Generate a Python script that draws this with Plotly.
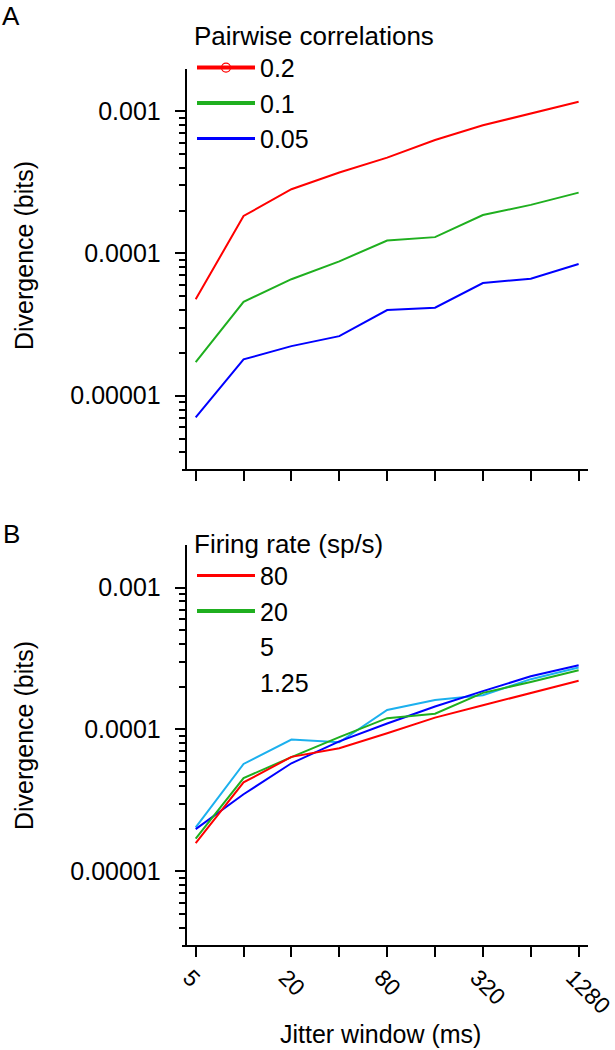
import plotly.graph_objects as go

# ---------------- data ----------------
jitter_ms = [5, 10, 20, 40, 80, 160, 320, 640, 1280]
x_tick_text_b = ["5", "", "20", "", "80", "", "320", "", "1280"]
x_tick_text_a = ["", "", "", "", "", "", "", "", ""]

corr_labels = ["0.2", "0.1", "0.05"]
corr_02 = [4.75e-5, 1.83e-4, 2.82e-4, 3.70e-4, 4.70e-4, 6.25e-4, 7.94e-4, 9.64e-4, 1.16e-3]
corr_01 = [1.72e-5, 4.57e-5, 6.58e-5, 8.79e-5, 1.23e-4, 1.30e-4, 1.86e-4, 2.19e-4, 2.67e-4]
corr_005 = [7.05e-6, 1.80e-5, 2.23e-5, 2.62e-5, 4.00e-5, 4.15e-5, 6.19e-5, 6.64e-5, 8.41e-5]

rate_labels = ["80", "20", "5", "1.25"]
rate_80 = [1.58e-5, 4.23e-5, 6.40e-5, 7.36e-5, 9.40e-5, 1.21e-4, 1.48e-4, 1.80e-4, 2.20e-4]
rate_20 = [1.70e-5, 4.54e-5, 6.37e-5, 8.81e-5, 1.20e-4, 1.29e-4, 1.81e-4, 2.16e-4, 2.61e-4]
rate_5 = [1.98e-5, 3.49e-5, 5.77e-5, 8.24e-5, 1.10e-4, 1.45e-4, 1.86e-4, 2.37e-4, 2.83e-4]
rate_125 = [2.04e-5, 5.71e-5, 8.48e-5, 8.11e-5, 1.37e-4, 1.61e-4, 1.74e-4, 2.26e-4, 2.73e-4]

y_tick_vals = [1e-5, 1e-4, 1e-3]
y_tick_text = ["0.00001", "0.0001", "0.001"]

# ---------------- style ----------------
W, H = 615, 1050
FONT = "Arial, Liberation Sans, sans-serif"
RED, GREEN, BLUE, CYAN = "#FF0000", "#1FAF1F", "#0000FF", "#1CB0EE"

minor_vals = [m * 10.0 ** e for e in (-6, -5, -4, -3) for m in range(2, 10)]

fig = go.Figure()

def add_series(x, y, color, xa, ya):
    fig.add_trace(go.Scatter(x=x, y=y, mode="lines", line=dict(color=color, width=2),
                             showlegend=False, xaxis=xa, yaxis=ya, hoverinfo="skip"))

def add_legend_entry(name, color, width, legend, xa, ya, marker=False):
    fig.add_trace(go.Scatter(x=[None], y=[None], mode="lines+markers" if marker else "lines",
                             line=dict(color=color, width=width),
                             marker=dict(symbol="circle-open", size=9, color=color,
                                         line=dict(width=1.2, color=color)),
                             name=name, legend=legend, xaxis=xa, yaxis=ya))

# Panel A
add_series(jitter_ms, corr_02, RED, "x", "y")
add_series(jitter_ms, corr_01, GREEN, "x", "y")
add_series(jitter_ms, corr_005, BLUE, "x", "y")
add_legend_entry(corr_labels[0], RED, 4, "legend", "x", "y", marker=True)
add_legend_entry(corr_labels[1], GREEN, 4, "legend", "x", "y")
add_legend_entry(corr_labels[2], BLUE, 3, "legend", "x", "y")

# Panel B
add_series(jitter_ms, rate_125, CYAN, "x2", "y2")
add_series(jitter_ms, rate_5, BLUE, "x2", "y2")
add_series(jitter_ms, rate_20, GREEN, "x2", "y2")
add_series(jitter_ms, rate_80, RED, "x2", "y2")
add_legend_entry(rate_labels[0], RED, 3, "legend2", "x2", "y2")
add_legend_entry(rate_labels[1], GREEN, 4, "legend2", "x2", "y2")
add_legend_entry(rate_labels[2], "rgba(0,0,0,0)", 0.1, "legend2", "x2", "y2")
add_legend_entry(rate_labels[3], "rgba(0,0,0,0)", 0.1, "legend2", "x2", "y2")

def px_x(p):
    return p / W

def px_y(p):
    return (H - p) / H

x_dom = [px_x(181.7), px_x(588.3)]
x_range = [0.611, 3.168]

common_x = dict(type="log", range=x_range, domain=x_dom, showline=True, linecolor="black",
                linewidth=2, ticks="outside", ticklen=10, tickwidth=2, tickcolor="black",
                tickmode="array", tickvals=jitter_ms, tickangle=45, showgrid=False,
                zeroline=False, ticklabeloverflow="allow", ticklabelshift=-6,
                ticklabelstandoff=-2, automargin=False,
                tickfont=dict(family=FONT, size=23, color="black"))
common_y = dict(type="log", showline=True, linecolor="black", linewidth=2, ticks="outside",
                ticklen=10, tickwidth=2, tickcolor="black", tickmode="array",
                tickvals=y_tick_vals, ticktext=y_tick_text, showgrid=False, zeroline=False,
                anchor="free", position=px_x(185.7), ticklabelstandoff=9, automargin=False,
                tickfont=dict(family=FONT, size=25, color="black"),
                minor=dict(tickmode="array", tickvals=minor_vals, ticks="outside", ticklen=6,
                           tickwidth=2, tickcolor="black", showgrid=False))

legend_common = dict(xanchor="left", yanchor="top", bgcolor="rgba(0,0,0,0)",
                     font=dict(family=FONT, size=25), itemwidth=58, tracegroupgap=0)

fig.update_layout(
    width=W, height=H, margin=dict(l=0, r=0, t=0, b=0, autoexpand=False),
    paper_bgcolor="white", plot_bgcolor="white",
    font=dict(family=FONT, size=25, color="black"),
    xaxis=dict(**common_x, anchor="y", ticktext=x_tick_text_a),
    yaxis=dict(**common_y, domain=[px_y(469.3), px_y(69)], range=[-5.517, -2.705]),
    xaxis2=dict(**common_x, anchor="y2", ticktext=x_tick_text_b),
    yaxis2=dict(**common_y, domain=[px_y(945), px_y(545)], range=[-5.52, -2.70]),
    legend=dict(**legend_common, x=px_x(192), y=px_y(11),
                title=dict(text="Pairwise correlations", font=dict(family=FONT, size=26))),
    legend2=dict(**legend_common, x=px_x(192), y=px_y(519),
                 title=dict(text="Firing rate (sp/s)", font=dict(family=FONT, size=26))),
    annotations=[
        dict(text="A", x=px_x(11), y=1.0, xref="paper", yref="paper", showarrow=False,
             xanchor="center", yanchor="top", borderpad=0, font=dict(family=FONT, size=26)),
        dict(text="B", x=px_x(11), y=px_y(534.5), xref="paper", yref="paper", showarrow=False,
             xanchor="center", yanchor="middle", font=dict(family=FONT, size=26)),
        dict(text="Divergence (bits)", textangle=-90, x=px_x(24), y=px_y(256),
             xref="paper", yref="paper", showarrow=False, xanchor="center", yanchor="middle",
             font=dict(family=FONT, size=25)),
        dict(text="Divergence (bits)", textangle=-90, x=px_x(24), y=px_y(736),
             xref="paper", yref="paper", showarrow=False, xanchor="center", yanchor="middle",
             font=dict(family=FONT, size=25)),
        dict(text="Jitter window (ms)", x=px_x(380.5), y=px_y(1034),
             xref="paper", yref="paper", showarrow=False, xanchor="center", yanchor="middle",
             font=dict(family=FONT, size=25)),
    ],
)

fig.write_html("out.html", config={"displayModeBar": False},
               post_script="document.body.style.margin='0';document.body.style.overflow='hidden';")
